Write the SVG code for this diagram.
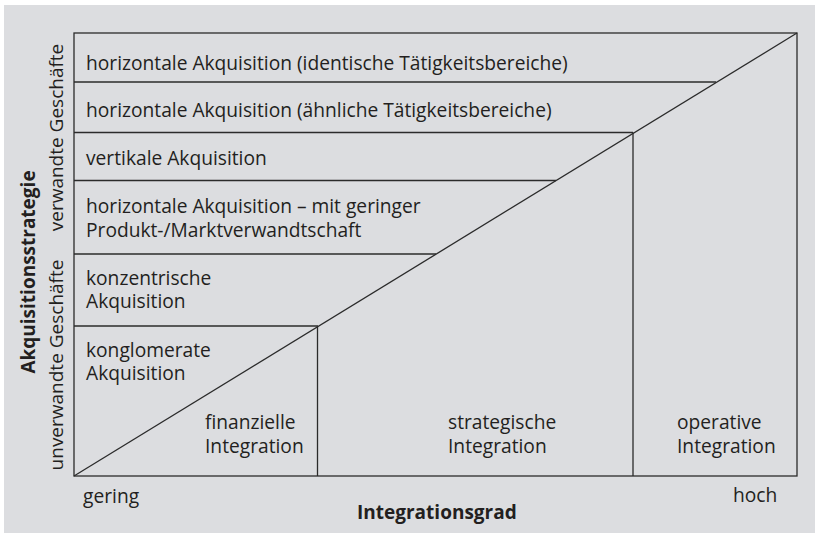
<svg xmlns="http://www.w3.org/2000/svg" width="815" height="534" viewBox="0 0 815 534">
<style>
.t{font-family:"Open Sans","Noto Sans",sans-serif;font-size:19.2px;fill:#231f20}
.v{font-family:"Open Sans","Noto Sans",sans-serif;font-size:19px;fill:#231f20}
.b{font-family:"Open Sans","Noto Sans",sans-serif;font-size:19px;font-weight:bold;fill:#231f20}
.ln{stroke:#2b2b2b;stroke-width:1.3;fill:none}
</style>
<rect x="0" y="0" width="815" height="534" fill="#ffffff"/>
<rect x="4" y="5" width="811" height="528" fill="#dcdde0"/>
<g id="connectors">
<rect class="ln" x="74" y="33" width="723" height="443"/>
<line class="ln" x1="74" y1="476" x2="797" y2="33"/>
<line class="ln" x1="74" y1="82" x2="716" y2="82"/>
<line class="ln" x1="74" y1="132.5" x2="633" y2="132.5"/>
<line class="ln" x1="74" y1="180.5" x2="556" y2="180.5"/>
<line class="ln" x1="74" y1="254" x2="436" y2="254"/>
<line class="ln" x1="74" y1="326" x2="318" y2="326"/>
<line class="ln" x1="317.5" y1="326" x2="317.5" y2="476"/>
<line class="ln" x1="633" y1="132.5" x2="633" y2="476"/>
</g>
<g id="row1"><text class="t" x="86" y="69.5">horizontale Akquisition (identische Tätigkeitsbereiche)</text></g>
<g id="row2"><text class="t" x="86" y="117">horizontale Akquisition (ähnliche Tätigkeitsbereiche)</text></g>
<g id="row3"><text class="t" x="86" y="165">vertikale Akquisition</text></g>
<g id="row4"><text class="t" x="86" y="213">horizontale Akquisition – mit geringer</text><text class="t" x="86" y="237">Produkt-/Marktverwandtschaft</text></g>
<g id="row5"><text class="t" x="86" y="285">konzentrische</text><text class="t" x="86" y="308">Akquisition</text></g>
<g id="row6"><text class="t" x="86" y="357">konglomerate</text><text class="t" x="86" y="380">Akquisition</text></g>
<g id="fin"><text class="t" x="205" y="429">finanzielle</text><text class="t" x="205" y="453">Integration</text></g>
<g id="strat"><text class="t" x="448" y="429">strategische</text><text class="t" x="448" y="453">Integration</text></g>
<g id="oper"><text class="t" x="677" y="429">operative</text><text class="t" x="677" y="453">Integration</text></g>
<g id="xaxis">
<text class="t" x="83" y="503">gering</text>
<text class="t" x="733" y="502">hoch</text>
<text class="b" x="357" y="519">Integrationsgrad</text>
</g>
<g id="yaxis">
<text class="v" text-anchor="middle" transform="translate(63,137.5) rotate(-90)">verwandte Geschäfte</text>
<text class="v" text-anchor="middle" transform="translate(63,365) rotate(-90)">unverwandte Geschäfte</text>
<text class="b" text-anchor="middle" transform="translate(35,272) rotate(-90)">Akquisitionsstrategie</text>
</g>
</svg>
